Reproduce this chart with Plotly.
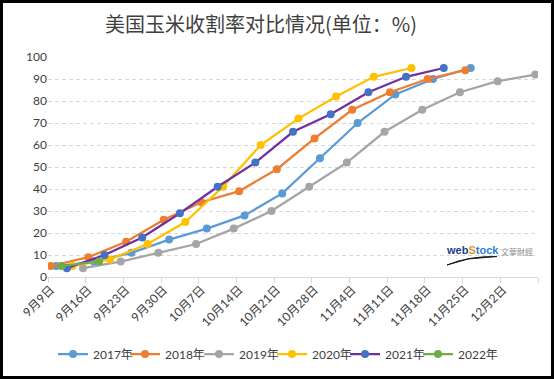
import plotly.graph_objects as go
from datetime import datetime

# ---------------- data ----------------
tick_labels = ["9月9日", "9月16日", "9月23日", "9月30日", "10月7日", "10月14日", "10月21日",
               "10月28日", "11月4日", "11月11日", "11月18日", "11月25日", "12月2日"]
tick_dates = ["9/9", "9/16", "9/23", "9/30", "10/7", "10/14", "10/21",
              "10/28", "11/4", "11/11", "11/18", "11/25", "12/2"]

dates_2017 = ["9/10", "9/17", "9/24", "10/1", "10/8", "10/15", "10/22", "10/29", "11/5", "11/12", "11/19", "11/26"]
vals_2017 = [5, 7, 11, 17, 22, 28, 38, 54, 70, 83, 90, 95]

dates_2018 = ["9/9", "9/16", "9/23", "9/30", "10/7", "10/14", "10/21", "10/28", "11/4", "11/11", "11/18", "11/25"]
vals_2018 = [5, 9, 16, 26, 34, 39, 49, 63, 76, 84, 90, 94]

dates_2019 = ["9/15", "9/22", "9/29", "10/6", "10/13", "10/20", "10/27", "11/3", "11/10", "11/17", "11/24", "12/1", "12/8"]
vals_2019 = [4, 7, 11, 15, 22, 30, 41, 52, 66, 76, 84, 89, 92]

dates_2020 = ["9/13", "9/20", "9/27", "10/4", "10/11", "10/18", "10/25", "11/1", "11/8", "11/15"]
vals_2020 = [5, 8, 15, 25, 41, 60, 72, 82, 91, 95]

dates_2021 = ["9/12", "9/19", "9/26", "10/3", "10/10", "10/17", "10/24", "10/31", "11/7", "11/14", "11/21"]
vals_2021 = [4, 10, 18, 29, 41, 52, 66, 74, 84, 91, 95]

dates_2022 = ["9/11", "9/18"]
vals_2022 = [5, 7]

series_names = ["2017年", "2018年", "2019年", "2020年", "2021年", "2022年"]


def to_date(md):
    m, d = md.split("/")
    return datetime(2000, int(m), int(d))


series = [
    (series_names[0], dates_2017, vals_2017, "#5B9BD5", "#5B9BD5"),
    (series_names[1], dates_2018, vals_2018, "#ED7D31", "#ED7D31"),
    (series_names[2], dates_2019, vals_2019, "#A5A5A5", "#A5A5A5"),
    (series_names[3], dates_2020, vals_2020, "#FFC000", "#FFC000"),
    (series_names[4], dates_2021, vals_2021, "#7030A0", "#4472C4"),
    (series_names[5], dates_2022, vals_2022, "#70AD47", "#70AD47"),
]

FONT = "Lato, 'Noto Sans CJK SC', sans-serif"
W, H = 554, 379
ml, mr, mt, mb = 48, 16, 57, 102
pw, ph = W - ml - mr, H - mt - mb

legend_keys = ["legend", "legend2", "legend3", "legend4", "legend5", "legend6"]
legend_left_px = [53, 125, 199, 272, 345, 418]

fig = go.Figure()
for i, (name, ds, vs, lc, mc) in enumerate(series):
    fig.add_trace(go.Scatter(
        x=[to_date(d) for d in ds], y=vs, name=name, mode="lines+markers",
        line=dict(color=lc, width=2.25),
        marker=dict(color=mc, size=8),
        legend=legend_keys[i],
    ))

legend_layout = {}
for key, lx in zip(legend_keys, legend_left_px):
    legend_layout[key] = dict(
        orientation="h", x=(lx - ml) / pw, xanchor="left",
        y=(277 - 354) / ph, yanchor="middle",
        bgcolor="rgba(0,0,0,0)", borderwidth=0,
        font=dict(family=FONT, size=12, color="#404040"),
        itemwidth=30,
    )

x0 = datetime(2000, 9, 8, 12)
x1 = datetime(2000, 12, 8, 12)

fig.update_layout(
    width=W, height=H,
    margin=dict(l=ml, r=mr, t=mt, b=mb, autoexpand=False),
    paper_bgcolor="white", plot_bgcolor="white",
    title=dict(text="美国玉米收割率对比情况(单位：%)", x=261 / W, xref="container", xanchor="center",
               y=1 - 25 / H, yanchor="middle",
               font=dict(family="'Noto Sans CJK SC', sans-serif", size=20, color="#404040")),
    font=dict(family=FONT, size=12, color="#595959"),
    showlegend=True,
    xaxis=dict(type="date", range=[x0, x1],
               tickvals=[to_date(d) for d in tick_dates], ticktext=tick_labels,
               tickangle=-45, ticks="", showgrid=False,
               showline=True, linecolor="#D9D9D9", linewidth=1,
               minor=dict(ticks="outside", ticklen=5, tickcolor="#D9D9D9",
                          tick0=x0, dtick=7 * 86400000, showgrid=False),
               tickfont=dict(family=FONT, size=12, color="#404040"),
               automargin=False, fixedrange=True),
    yaxis=dict(range=[0, 100], dtick=10, showgrid=True, gridcolor="#D9D9D9",
               griddash="4px,3px", gridwidth=1, zeroline=True, zerolinecolor="#D9D9D9",
               zerolinewidth=1, ticks="", showline=False,
               tickfont=dict(family=FONT, size=12, color="#404040"),
               automargin=False, fixedrange=True),
    **legend_layout,
)

# watermark
fig.add_annotation(xref="paper", yref="paper", x=(444 - ml) / pw, y=(277 - 250) / ph,
                   xanchor="left", yanchor="middle", showarrow=False,
                   text="<b><span style='color:#1F3C88'>web</span><span style='color:#E0962B'>S</span><span style='color:#2A7FD4'>tock</span></b>",
                   font=dict(family="Arial, 'Liberation Sans'", size=11))
fig.add_annotation(xref="paper", yref="paper", x=(499 - ml) / pw, y=(277 - 251) / ph,
                   xanchor="left", yanchor="middle", showarrow=False,
                   text="文華財經", font=dict(family="'Noto Sans CJK TC'", size=8, color="#8C8C8C"))
px = lambda v: (v - ml) / pw
py = lambda v: (277 - v) / ph
fig.add_shape(type="path", xref="paper", yref="paper",
              path=f"M {px(447)},{py(265)} Q {px(468)},{py(256)} {px(497)},{py(256.5)} L {px(468)},{py(259)} Z",
              line=dict(color="#1A1A1A", width=1), fillcolor="#1A1A1A")

# outer black frame
fig.add_shape(type="rect", xref="paper", yref="paper",
              x0=-ml / pw, x1=(W - ml) / pw, y0=-mb / ph, y1=1 + mt / ph,
              line=dict(color="black", width=6), fillcolor="rgba(0,0,0,0)", layer="above")

fig.write_html("out.html", config={"displayModeBar": False},
               post_script="document.body.style.margin='0';document.body.style.overflow='hidden';")
